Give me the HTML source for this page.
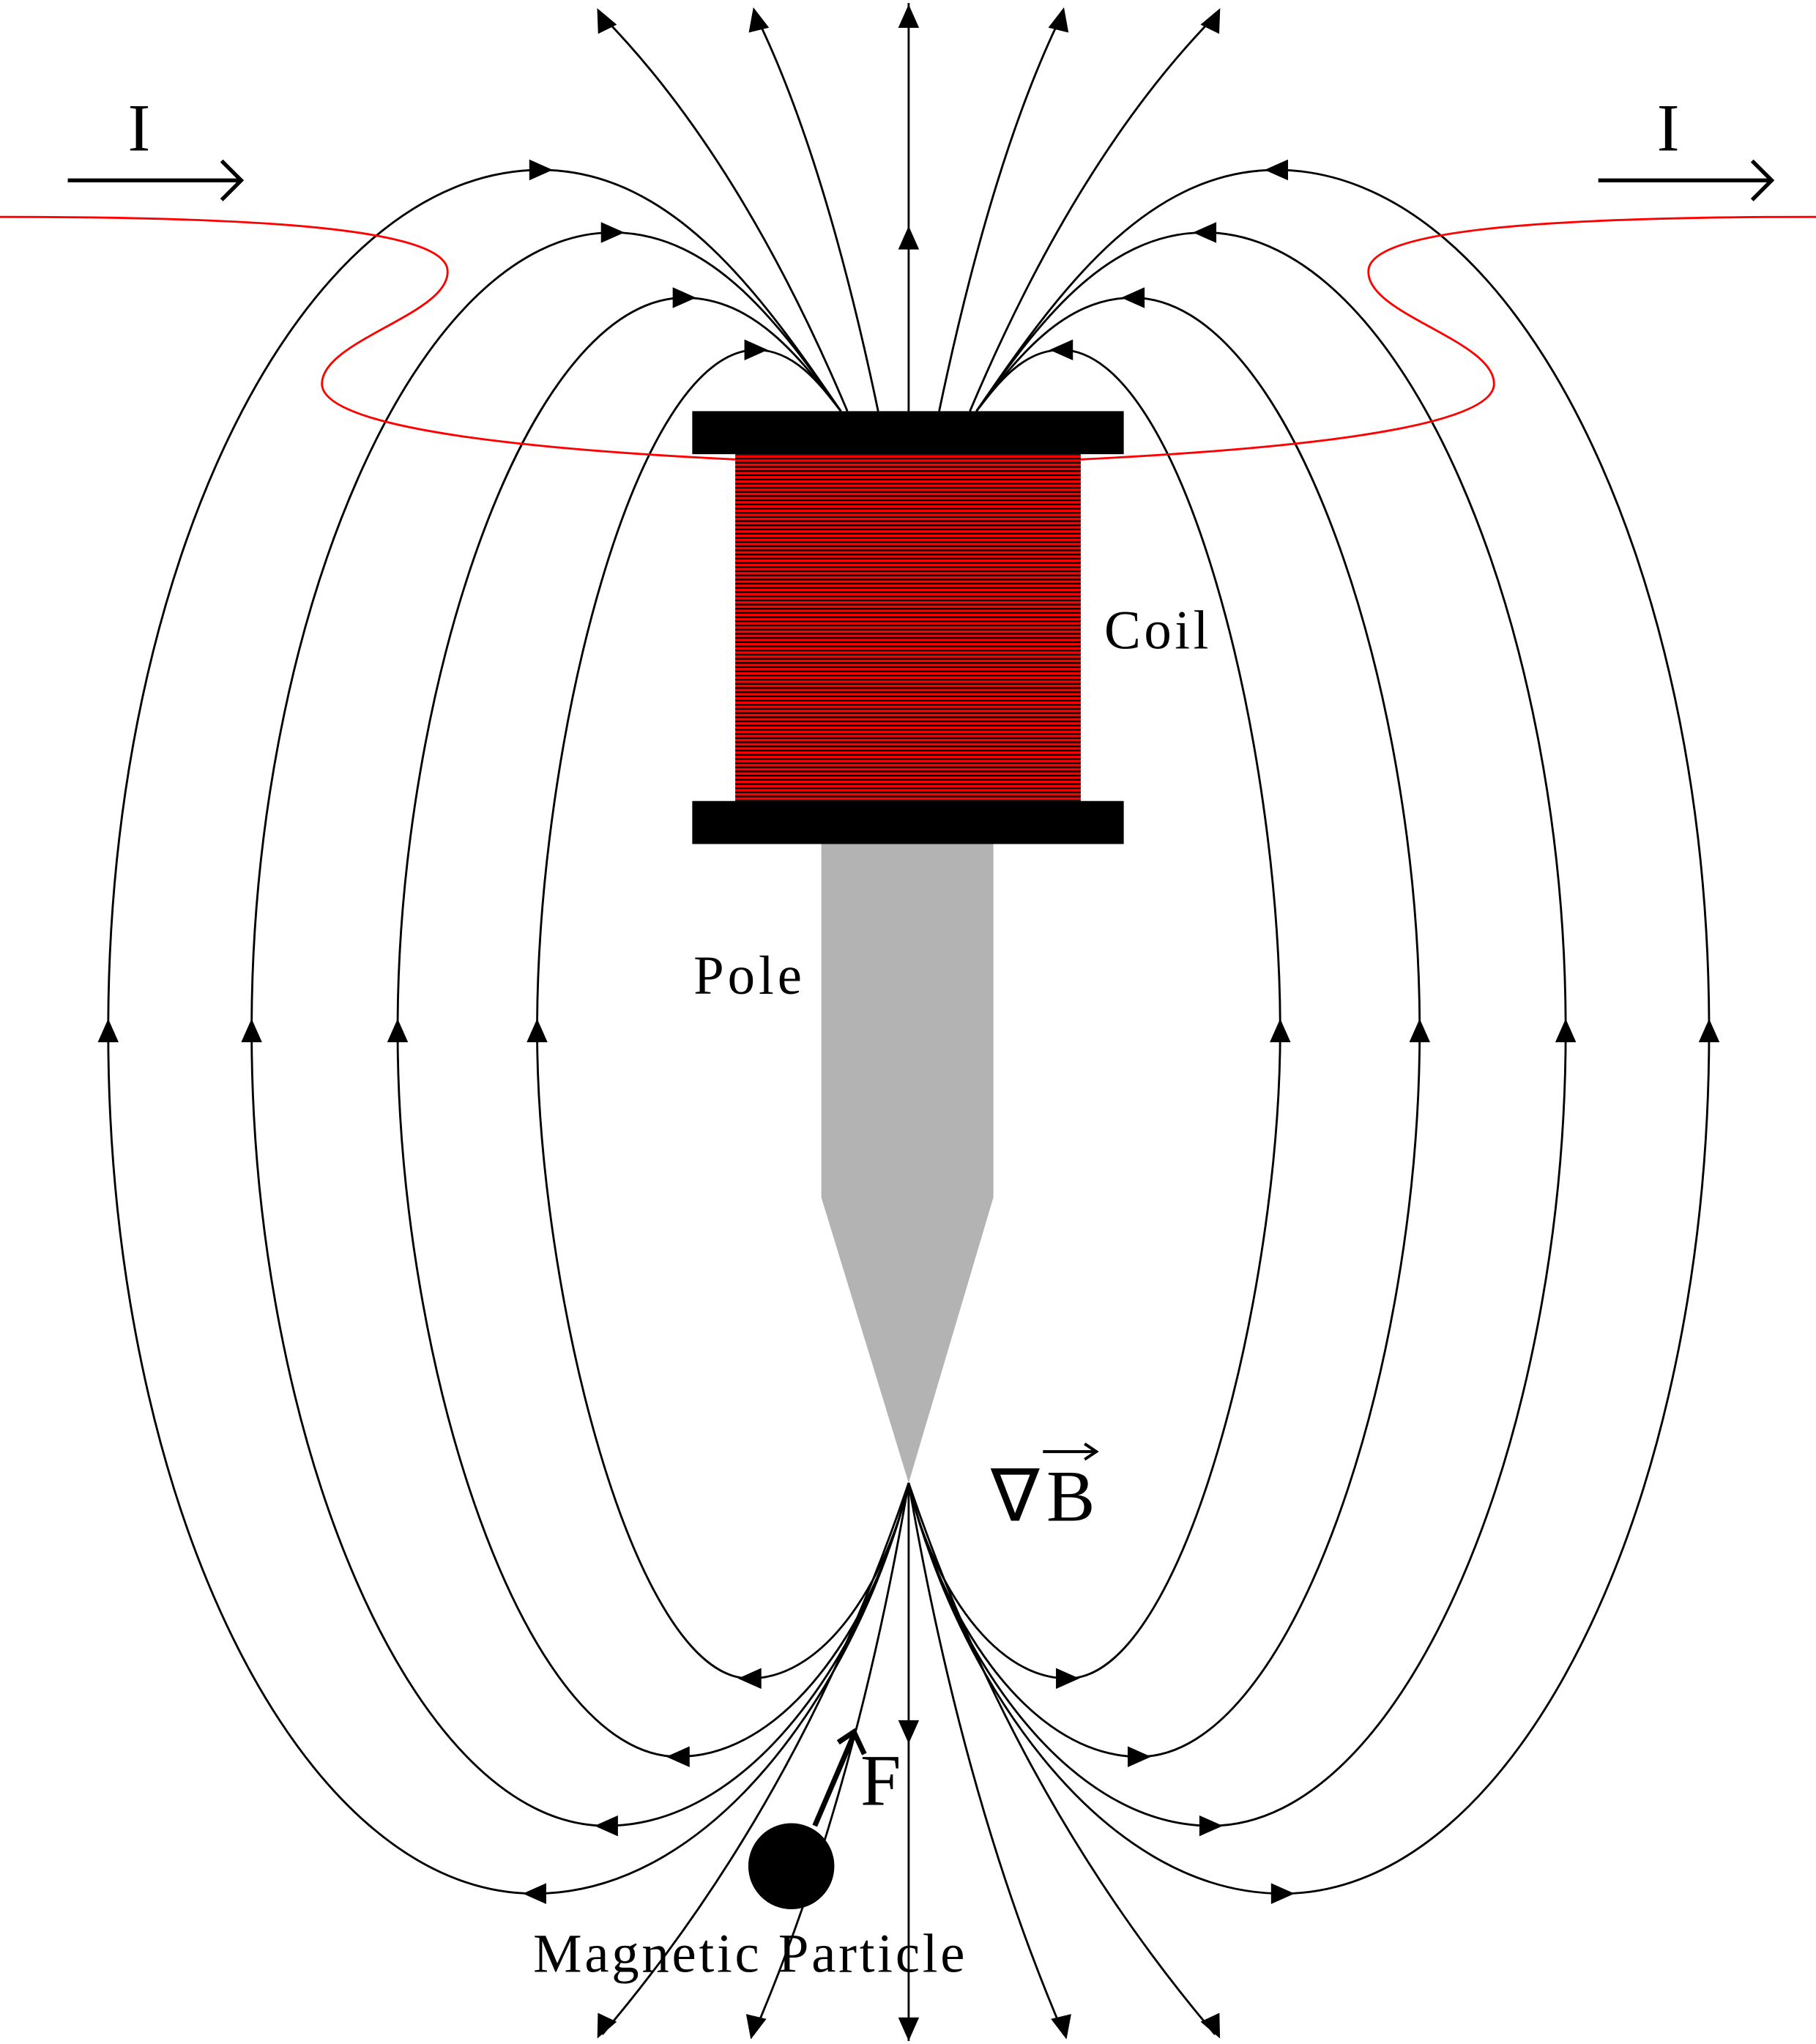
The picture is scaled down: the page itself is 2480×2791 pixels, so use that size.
<!DOCTYPE html>
<html><head><meta charset="utf-8"><style>
html,body{margin:0;padding:0;background:#fff;}
svg{display:block;}
text{font-family:"Liberation Serif",serif;fill:#000;}
</style></head><body>
<svg width="2480" height="2791" viewBox="0 0 1393 1567" xmlns="http://www.w3.org/2000/svg">
<defs>
<pattern id="coilp" patternUnits="userSpaceOnUse" width="10" height="3.2">
<rect width="10" height="3.2" fill="#ff0000"/><rect y="1.9" width="10" height="1.3" fill="#000"/>
</pattern>
</defs>
<g id="lines" fill="none" stroke="#000" stroke-width="1.6"></g>
<g id="arrows" fill="#000"></g>
<path d="M0,166 C200,166 335,175 343,205 C350,240 245,260 247,295 C250,330 420,345 564,352" fill="none" stroke="#f00" stroke-width="1.6"/>
<path d="M1393,166 C1193,166 1058,175 1050,205 C1043,240 1148,260 1146,295 C1143,330 973,345 829,352" fill="none" stroke="#f00" stroke-width="1.6"/>
<rect x="564" y="348" width="265" height="266" fill="url(#coilp)"/>
<rect x="531" y="315" width="331" height="33" fill="#000"/>
<rect x="531" y="614" width="331" height="33" fill="#000"/>
<path d="M630,647 H762 V918 L697,1137 L630,918 Z" fill="#b3b3b3"/>
<text x="98" y="115" font-size="52">I</text>
<path d="M52,138 H184 M170,123 L185,138 L170,153" fill="none" stroke="#000" stroke-width="3"/>
<text x="1271" y="115" font-size="52">I</text>
<path d="M1226,138 H1358 M1344,123 L1359,138 L1344,153" fill="none" stroke="#000" stroke-width="3"/>
<text x="847" y="497" font-size="42" textLength="80">Coil</text>
<text x="532" y="762" font-size="42" textLength="83">Pole</text>
<text x="760" y="1166" font-size="56" textLength="80">∇B</text>
<path d="M800,1113 H840 M832,1107 L841,1113 L832,1119" fill="none" stroke="#000" stroke-width="2.2"/>
<text x="660" y="1384" font-size="56">F</text>
<path d="M625,1400 L655,1330 M643,1336 L655,1328 L663,1345" fill="none" stroke="#000" stroke-width="4"/>
<circle cx="607" cy="1431" r="33" fill="#000"/>
<text x="409" y="1512" font-size="42" textLength="331">Magnetic Particle</text>
</svg>
<script>
// loop parameters: outward extent x, top y, bottom y (left side, mirrored on right)
const loopExtX = [83, 193, 305, 412];
const loopTopY = [130, 178, 228, 268];
const loopBotY = [1452, 1400, 1347, 1287];
const loopTopX = [415, 470, 525, 580];
const loopBotX = [410, 465, 520, 575];
const openTopX = [462, 580, 697, 814, 932];
const openBotX = [462, 578, 697, 816, 932];
const CX = 697, APEX = 1137, TOPY = 315;
const NS = 'http://www.w3.org/2000/svg';
const L = document.getElementById('lines'), A = document.getElementById('arrows');
function path(d, name){const p=document.createElementNS(NS,'path');p.setAttribute('d',d);


L.appendChild(p);}
function arrow(x,y,ang,name){const p=document.createElementNS(NS,'path');
p.setAttribute('d','M9,0 L-9,-8 L-9,8 Z');
p.setAttribute('transform','translate('+x+','+y+') rotate('+ang+')');


A.appendChild(p);}
loopExtX.forEach((ex,i)=>{
  [1,-1].forEach(s=>{
    const X=v=>CX+s*(v-CX);
    const sx=X(645), tx=X(loopTopX[i]), bx=X(loopBotX[i]), e=X(ex);
    const ty=loopTopY[i], by=loopBotY[i];
    const tc1x=X(645-(645-loopTopX[i])*0.25), tc1y=TOPY-(TOPY-ty)*0.45;
    const tc2x=X(loopTopX[i]+(645-loopTopX[i])*0.45);
    const bc1x=X(loopBotX[i]+(CX-loopBotX[i])*0.5);
    const bc2x=X(CX-(CX-loopBotX[i])*0.12), bc2y=APEX+(by-APEX)*0.45;
    const d='M'+sx+','+TOPY+' C'+tc1x+','+tc1y+' '+tc2x+','+ty+' '+tx+','+ty+
      ' C'+X(loopTopX[i]-(loopTopX[i]-ex)*0.55)+','+ty+' '+e+','+(ty+300)+' '+e+','+790+
      ' C'+e+','+(by-300)+' '+X(loopBotX[i]-(loopBotX[i]-ex)*0.55)+','+by+' '+bx+','+by+
      ' C'+bc1x+','+by+' '+bc2x+','+bc2y+' '+CX+','+APEX;
    path(d, 'field-loop-'+(s>0?'left':'right')+'-'+i);
    arrow(tx,ty,s>0?0:180,'arrow-top');
    arrow(e,790,-90,'arrow-side');
    arrow(bx,by,s>0?180:0,'arrow-bottom');
  });
});
openTopX.forEach((x,i)=>{
  const sx=CX+(x-CX)*0.2;
  if(x===CX){path('M'+CX+','+TOPY+' V2','open-line-top-center');arrow(CX,12,-90,'arrow');arrow(CX,182,-90,'arrow');return;}
  path('M'+sx+','+TOPY+' Q'+(CX+(x-CX)*0.55)+',120 '+x+',12','open-line-top-'+i);
  const ang=Math.atan2(12-60,x-(CX+(x-CX)*0.9))*180/Math.PI;
  arrow(x,14,ang,'arrow');
});
openBotX.forEach((x,i)=>{
  if(x===CX){path('M'+CX+','+APEX+' V1565','open-line-bottom-center');arrow(CX,1328,90,'arrow');arrow(CX,1556,90,'arrow');return;}
  path('M'+CX+','+APEX+' Q'+(CX+(x-CX)*0.35)+',1380 '+x+',1560','open-line-bottom-'+i);
  const ang=Math.atan2(1560-1510,x-(CX+(x-CX)*0.9))*180/Math.PI;
  arrow(x,1555,ang,'arrow');
});
</script>
</body></html>
